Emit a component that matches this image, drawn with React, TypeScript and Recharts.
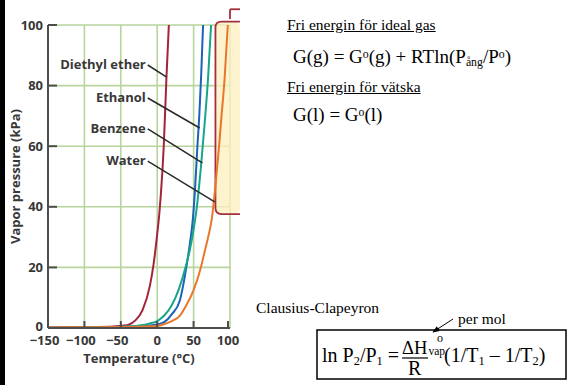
import React from "react";
import {
  LineChart,
  Line,
  XAxis,
  YAxis,
  CartesianGrid,
  ReferenceArea,
  ReferenceLine,
  ReferenceDot,
} from "recharts";

// temperature (°C) / vapour pressure (kPa)
const etherT = [-150, -100, -60, -45, -40, -30, -20, -10, -5, 0, 3, 5, 9, 12.6, 16];
const etherP = [0.2, 0.3, 0.5, 0.8, 1, 2.5, 6, 14, 21, 31, 38, 44, 60, 82, 100];

const ethanolT = [-150, -100, -50, -20, 0, 10, 20, 31, 40, 45, 49, 52, 55, 58, 60.5, 63];
const ethanolP = [0.1, 0.2, 0.4, 0.7, 1.2, 2, 4.5, 9, 20, 28, 36, 46, 59, 71, 84, 100];

const benzeneT = [-150, -100, -50, -25, -10, 0, 10, 20, 30, 40, 45, 50, 55, 60, 65, 70, 74];
const benzeneP = [0.1, 0.2, 0.4, 0.8, 1.5, 2.3, 4.2, 7.5, 13, 21, 26, 32.5, 41, 53, 67, 83, 100];

const waterT = [-150, -100, -50, 0, 10, 20, 31, 40, 50, 60, 65, 70, 75, 80, 85, 88, 92.5, 97];
const waterP = [0.2, 0.25, 0.35, 0.7, 1.3, 2.3, 4, 7.5, 12.5, 20, 25, 30, 36, 47, 60, 69, 82, 100];

const xTicks = [-150, -100, -50, 0, 50, 100];
const yTicks = [0, 20, 40, 60, 80, 100];

// label text, where it sits, and where its leader line ends
const labelNames = ["Diethyl ether", "Ethanol", "Benzene", "Water"];
const labelP = [87.1, 76.2, 66, 55.4];
const leaderEnd = [
  { t: 13, p: 82.8 },
  { t: 58.4, p: 66 },
  { t: 62, p: 54.5 },
  { t: 79, p: 41.6 },
];

const zip = (ts: number[], ps: number[]) => ts.map((t, i) => ({ t, p: ps[i] }));
const etherData = zip(etherT, etherP);
const ethanolData = zip(ethanolT, ethanolP);
const benzeneData = zip(benzeneT, benzeneP);
const waterData = zip(waterT, waterP);

const sans = "'Open Sans', 'DejaVu Sans', sans-serif";
const serif = "'Liberation Serif', 'Times New Roman', serif";
const ink = "#383838";
const axisCol = "#4d4d4d";

const XTick = (props: any) => {
  const { x, y, payload } = props;
  const v = payload.value;
  const txt = v < 0 ? `\u2212${-v}` : `${v}`;
  return (
    <g>
      {v !== -150 && (
        <line x1={x} x2={x} y1={y} y2={y - 7} stroke={axisCol} strokeWidth={2} />
      )}
      <text
        x={x}
        y={y + 17}
        dx={v < 0 ? -3.5 : 0}
        textAnchor="middle"
        fontFamily={sans}
        fontWeight={700}
        fontSize={13}
        fill={ink}
      >
        {txt}
      </text>
    </g>
  );
};

const YTick = (props: any) => {
  const { x, y, payload } = props;
  return (
    <g>
      {payload.value !== 0 && (
        <line x1={x} x2={x + 9} y1={y} y2={y} stroke={axisCol} strokeWidth={2} />
      )}
      <text
        x={x - 5}
        y={payload.value === 0 ? y - 1.5 : y}
        dy="0.36em"
        textAnchor="end"
        fontFamily={sans}
        fontWeight={700}
        fontSize={13}
        fill={ink}
      >
        {payload.value}
      </text>
    </g>
  );
};

const Callout = (p: any) => {
  const { x, y, width: w, height: h } = p;
  const r = 6;
  const d = `M${x + w},${y} L${x + r},${y} Q${x},${y} ${x},${y + r} L${x},${y + h - r} Q${x},${y + h} ${x + r},${y + h} L${x + w},${y + h}`;
  return (
    <g>
      <rect x={x} y={y} width={w} height={h} rx={r} fill="#fcefbd" fillOpacity={0.75} />
      <path d={d} fill="none" stroke="#a3303c" strokeWidth={1.8} />
    </g>
  );
};

const Txt = ({
  left,
  base,
  size,
  children,
  underline,
}: {
  left: number;
  base: number;
  size: number;
  children: React.ReactNode;
  underline?: boolean;
}) => (
  <div
    style={{
      position: "absolute",
      left,
      top: base - 0.84 * size,
      fontFamily: serif,
      fontSize: size,
      lineHeight: 1,
      whiteSpace: "nowrap",
      color: "#000",
      textDecoration: underline ? "underline" : "none",
    }}
  >
    {children}
  </div>
);

const sub = { fontSize: "0.62em", verticalAlign: "-0.25em" } as React.CSSProperties;
const sup = { fontSize: "0.62em", verticalAlign: "0.45em" } as React.CSSProperties;

export default function App() {
  return (
    <div
      style={{
        position: "absolute",
        left: 0,
        top: 0,
        width: 568,
        height: 385,
        background: "#fff",
        overflow: "hidden",
      }}
    >
      <div style={{ position: "absolute", left: 0, top: 0, width: 5, height: 385, background: "#000" }} />
      <div style={{ position: "absolute", left: 0, top: 0 }}>
        <LineChart width={240} height={385} margin={{ top: 25, right: 10, bottom: 0, left: 0 }}>
          <CartesianGrid stroke="#b7d59c" strokeWidth={1.6} />
          <XAxis
            type="number"
            dataKey="t"
            domain={[-150, 100]}
            ticks={xTicks}
            allowDataOverflow
            height={57}
            tickSize={0}
            tickMargin={0}
            tickLine={false}
            axisLine={{ stroke: axisCol, strokeWidth: 2 }}
            tick={<XTick />}
            label={{
              value: "Temperature (\u00b0C)",
              position: "insideBottom",
              offset: 22,
              fill: ink,
              fontFamily: sans,
              fontWeight: 700,
              fontSize: 13,
            }}
          />
          <YAxis
            type="number"
            dataKey="p"
            domain={[0, 100]}
            ticks={yTicks}
            allowDataOverflow
            width={48}
            tickSize={0}
            tickMargin={0}
            tickLine={false}
            axisLine={{ stroke: axisCol, strokeWidth: 2 }}
            tick={<YTick />}
            label={{
              value: "Vapor pressure (kPa)",
              angle: -90,
              position: "insideLeft",
              offset: 15,
              fill: ink,
              fontFamily: sans,
              fontWeight: 700,
              fontSize: 13,
              style: { textAnchor: "middle" },
            }}
          />
          <ReferenceArea
            x1={80}
            x2={113.8}
            y1={37.6}
            y2={101.1}
            ifOverflow="visible"
            shape={<Callout />}
          />
          <ReferenceLine
            segment={[{ x: 100, y: 102 }, { x: 100, y: 105.2 }]}
            ifOverflow="visible"
            stroke="#a3303c"
            strokeWidth={1.8}
          />
          <ReferenceLine
            segment={[{ x: 100, y: 105.2 }, { x: 113.8, y: 105.2 }]}
            ifOverflow="visible"
            stroke="#a3303c"
            strokeWidth={1.8}
          />
          <Line data={etherData} dataKey="p" type="monotone" stroke="#a3243b" strokeWidth={2} dot={false} isAnimationActive={false} />
          <Line data={ethanolData} dataKey="p" type="monotone" stroke="#1c62b8" strokeWidth={2} dot={false} isAnimationActive={false} />
          <Line data={benzeneData} dataKey="p" type="monotone" stroke="#17a58a" strokeWidth={2} dot={false} isAnimationActive={false} />
          <Line data={waterData} dataKey="p" type="monotone" stroke="#e8772b" strokeWidth={2} dot={false} isAnimationActive={false} />
          {labelNames.map((name, i) => (
            <ReferenceLine
              key={`l${i}`}
              segment={[{ x: -13, y: labelP[i] - 0.3 }, { x: leaderEnd[i].t, y: leaderEnd[i].p }]}
              stroke="#2a2a2a"
              strokeWidth={1.5}
            />
          ))}
          {labelNames.map((name, i) => (
            <ReferenceDot
              key={`d${i}`}
              x={-14.3}
              y={labelP[i]}
              r={1}
              fill="none"
              stroke="none"
              label={{
                value: name,
                position: "left",
                offset: 0,
                fill: ink,
                fontFamily: sans,
                fontWeight: 700,
                fontSize: 13,
              }}
            />
          ))}
        </LineChart>
      </div>

      <Txt left={287} base={30.5} size={15.5} underline>
        Fri energin för ideal gas
      </Txt>
      <Txt left={293} base={63} size={19}>
        G(g) = G<span style={sup}>o</span>(g) + RTln(P<span style={sub}>ång</span>/P<span style={sup}>o</span>)
      </Txt>
      <Txt left={287} base={92} size={15.5} underline>
        Fri energin för vätska
      </Txt>
      <Txt left={293} base={121} size={19}>
        G(l) = G<span style={sup}>o</span>(l)
      </Txt>

      <Txt left={256} base={313.5} size={15.5}>
        Clausius-Clapeyron
      </Txt>
      <Txt left={458} base={324.5} size={15.5}>
        per mol
      </Txt>
      <svg style={{ position: "absolute", left: 0, top: 0 }} width={568} height={385}>
        <defs>
          <marker id="ah" viewBox="0 0 10 10" refX="9" refY="5" markerWidth="7" markerHeight="7" orient="auto">
            <path d="M0,1 L10,5 L0,9 z" fill="#000" />
          </marker>
        </defs>
        <line x1={453} y1={319} x2={433} y2={332} stroke="#000" strokeWidth={1} markerEnd="url(#ah)" />
        <rect x={317} y={330} width={249} height={49} fill="none" stroke="#000" strokeWidth={1.5} />
        <line x1={402} y1={358} x2={428} y2={358} stroke="#000" strokeWidth={1.2} />
      </svg>
      <Txt left={322} base={362} size={20}>
        ln P<span style={sub}>2</span>/P<span style={sub}>1</span> =
      </Txt>
      <Txt left={402} base={354.5} size={18.5}>
        ΔH
      </Txt>
      <Txt left={428.5} base={355.5} size={11.5}>
        vap
      </Txt>
      <Txt left={437} base={342} size={12}>
        o
      </Txt>
      <Txt left={408} base={375} size={20}>
        R
      </Txt>
      <Txt left={444} base={362} size={20}>
        (1/T<span style={sub}>1</span> – 1/T<span style={sub}>2</span>)
      </Txt>
    </div>
  );
}
